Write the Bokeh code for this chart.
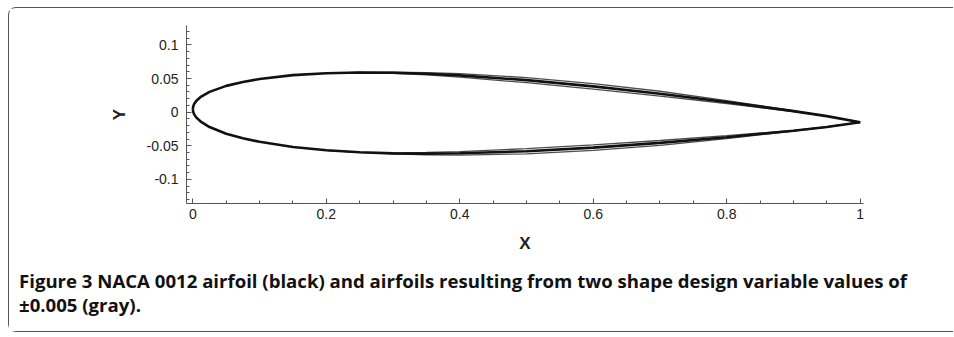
from bokeh.plotting import figure
from bokeh.models import Range1d, FixedTicker, Div
from bokeh.layouts import column
from bokeh.embed import file_html
from bokeh.resources import INLINE

# Black NACA 0012 airfoil
x_black = [0, 0.0005, 0.002, 0.005, 0.0125, 0.025, 0.05, 0.075, 0.1, 0.15, 0.2,
           0.25, 0.3, 0.35, 0.4, 0.5, 0.6, 0.7, 0.8, 0.9, 0.95, 1.0]
upper_black = [0.0045, 0.0084, 0.0123, 0.0166, 0.0232, 0.0302, 0.0391, 0.0450, 0.0494,
               0.0551, 0.0580, 0.0590, 0.0586, 0.0572, 0.0547, 0.0477, 0.0384, 0.0275,
               0.0151, 0.0015, -0.0059, -0.0150]
lower_black = [0.0045, 0.0005, -0.0033, -0.0078, -0.0146, -0.0222, -0.0321, -0.0390,
               -0.0442, -0.0519, -0.0568, -0.0598, -0.0614, -0.0618, -0.0613, -0.0582,
               -0.0528, -0.0458, -0.0373, -0.0276, -0.0221, -0.0150]

# Gray perturbed airfoils (aft part, where they separate from the black one)
x_gray = [0.2, 0.25, 0.3, 0.35, 0.4, 0.5, 0.6, 0.7, 0.8, 0.9, 0.95, 1.0]
upper_gray_a = [0.0580, 0.0590, 0.0594, 0.0589, 0.0573, 0.0515, 0.0426, 0.0311, 0.0173,
                0.0021, -0.0059, -0.0150]
lower_gray_a = [-0.0568, -0.0598, -0.0622, -0.0635, -0.0639, -0.0620, -0.0570, -0.0494,
                -0.0395, -0.0282, -0.0221, -0.0150]
upper_gray_b = [0.0580, 0.0590, 0.0578, 0.0555, 0.0521, 0.0439, 0.0342, 0.0239, 0.0129,
                0.0009, -0.0059, -0.0150]
lower_gray_b = [-0.0568, -0.0598, -0.0606, -0.0601, -0.0587, -0.0544, -0.0486, -0.0422,
                -0.0351, -0.0270, -0.0221, -0.0150]

x_ticks = [0, 0.2, 0.4, 0.6, 0.8, 1.0]
x_tick_labels = ["0", "0.2", "0.4", "0.6", "0.8", "1"]
x_minor = [0.05, 0.1, 0.15, 0.25, 0.3, 0.35, 0.45, 0.5, 0.55, 0.65, 0.7, 0.75,
           0.85, 0.9, 0.95]
y_ticks = [-0.1, -0.05, 0, 0.05, 0.1]
y_tick_labels = ["-0.1", "-0.05", "0", "0.05", "0.1"]
y_minor = [-0.13, -0.12, -0.11, -0.09, -0.08, -0.07, -0.06, -0.04, -0.03, -0.02, -0.01,
           0.01, 0.02, 0.03, 0.04, 0.06, 0.07, 0.08, 0.09, 0.11, 0.12]

caption_1 = ("Figure 3 NACA 0012 airfoil (black) and airfoils resulting from two shape "
             "design variable values of")
caption_2 = "\u00b10.005 (gray)."

p = figure(width=944, height=255, output_backend="svg", toolbar_location=None,
           x_range=Range1d(-0.0095, 1.005), y_range=Range1d(-0.136, 0.129),
           min_border_left=177, min_border_right=90, min_border_top=17,
           min_border_bottom=60)
p.outline_line_color = None
p.xgrid.visible = False
p.ygrid.visible = False
p.background_fill_color = "white"
p.border_fill_color = "white"

for ax, ticks, minor, labels in ((p.xaxis[0], x_ticks, x_minor, x_tick_labels),
                                 (p.yaxis[0], y_ticks, y_minor, y_tick_labels)):
    ax.ticker = FixedTicker(ticks=ticks, minor_ticks=minor)
    ax.major_label_overrides = {t: l for t, l in zip(ticks, labels)}
    ax.axis_line_color = "#555555"
    ax.major_tick_line_color = "#555555"
    ax.minor_tick_line_color = "#555555"
    ax.major_tick_in = 5
    ax.major_tick_out = 0
    ax.minor_tick_in = 3
    ax.minor_tick_out = 0
    ax.major_label_text_font = "Liberation Sans"
    ax.major_label_text_font_size = "14px"
    ax.major_label_text_color = "#222222"
    ax.axis_label_text_font = "Liberation Sans"
    ax.axis_label_text_font_style = "bold"
    ax.axis_label_text_font_size = "17px"
    ax.axis_label_text_color = "#222222"

p.xaxis.axis_label = "X"
p.yaxis.axis_label = "Y"
p.xaxis.major_label_standoff = 5
p.xaxis.axis_label_standoff = 12
p.yaxis.major_label_standoff = 8
p.yaxis.axis_label_standoff = 15

gray = "#4d4d4d"
for uy, ly in ((upper_gray_a, lower_gray_a), (upper_gray_b, lower_gray_b)):
    p.line(x_gray, uy, line_color=gray, line_width=1.3)
    p.line(x_gray, ly, line_color=gray, line_width=1.3)
p.line(x_black, upper_black, line_color="#111111", line_width=2.6)
p.line(x_black, lower_black, line_color="#111111", line_width=2.6)

caption_html = (
    '<div style="font-family: \'Open Sans\', sans-serif; font-weight: bold; '
    'font-size: 18.6px; line-height: 24px; color: #111111; padding-left: 10px; '
    'padding-top: 6px; margin: 0; white-space: nowrap;">'
    + caption_1 + "<br>" + caption_2 + "</div>"
)
caption = Div(text=caption_html, width=944, height=68,
              styles={"background-color": "white", "margin": "0", "padding": "0"})

layout = column(p, caption, spacing=0, margin=(7, 0, 0, 8))
layout.styles = {"border-left": "1px solid #555", "border-top": "1px solid #555",
                 "border-bottom": "1px solid #555", "border-top-left-radius": "8px",
                 "border-bottom-left-radius": "8px", "background-color": "white"}

open("out.html", "w").write(file_html(layout, INLINE))
